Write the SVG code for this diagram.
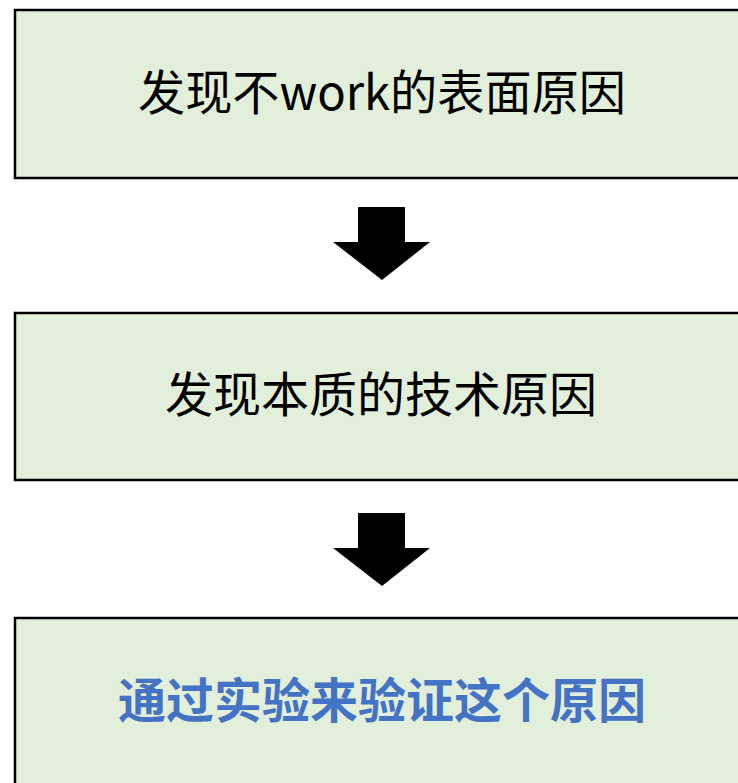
<svg xmlns="http://www.w3.org/2000/svg" width="738" height="783" viewBox="0 0 738 783">
<style>
.box{fill:#E2EFDA;stroke:#000;stroke-width:2.5}
.t{font-family:"Noto Sans CJK SC","Noto Sans",sans-serif;font-size:48px;text-anchor:middle;dominant-baseline:central;fill:#000}
.b{font-weight:bold;fill:#4472C4}
.arr{fill:#000}
</style>
<rect width="738" height="783" fill="#fff"/>
<g id="node1"><rect class="box" x="15" y="10" width="740" height="168"/><text class="t" x="382" y="89" textLength="488" lengthAdjust="spacingAndGlyphs">发现不work的表面原因</text></g>
<g id="node2"><rect class="box" x="15" y="313" width="740" height="167"/><text class="t" x="381" y="391">发现本质的技术原因</text></g>
<g id="node3"><rect class="box" x="15" y="618" width="740" height="180"/><text class="t b" x="382" y="697">通过实验来验证这个原因</text></g>
<g id="connectors">
<polygon class="arr" points="358,207 405,207 405,242 430,242 382,280 333,242 358,242"/>
<polygon class="arr" points="358,513 405,513 405,548 430,548 382,586 333,548 358,548"/>
</g>
</svg>
